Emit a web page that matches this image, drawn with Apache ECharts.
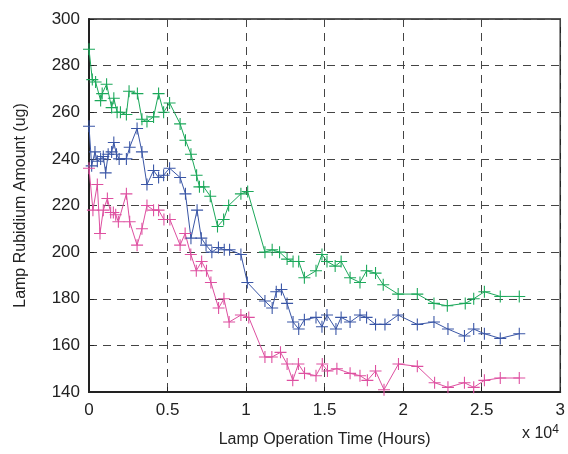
<!DOCTYPE html>
<html>
<head>
<meta charset="utf-8">
<script src="https://cdn.jsdelivr.net/npm/echarts@6/dist/echarts.min.js"></script>
<style>
  html, body { margin: 0; padding: 0; background: #fff; }
  #chart { width: 568px; height: 454px; }
</style>
</head>
<body>
<div id="chart"></div>
<script>
// operation time in units of 10^4 hours, amounts in ug
var greenHours = [0, 0.021, 0.042, 0.074, 0.084, 0.112, 0.144, 0.158, 0.179, 0.2, 0.238, 0.255, 0.308, 0.337, 0.369, 0.411, 0.443, 0.475, 0.513, 0.58, 0.614, 0.649, 0.685, 0.703, 0.73, 0.772, 0.818, 0.857, 0.889, 0.967, 1.01, 1.12, 1.166, 1.213, 1.261, 1.299, 1.335, 1.371, 1.445, 1.483, 1.515, 1.567, 1.605, 1.662, 1.725, 1.767, 1.824, 1.873, 1.968, 2.09, 2.196, 2.281, 2.395, 2.449, 2.517, 2.618, 2.739];
var greenValues = [287, 274, 273, 265, 268, 272, 262, 266, 260, 260, 259, 269, 268, 257, 256, 258, 268, 260, 264, 255, 248, 242, 233, 228, 228, 224, 211, 214, 220, 225, 226, 200, 201, 200, 197, 196, 196, 189, 192, 199, 196, 194, 196, 189, 187, 192, 191, 186, 182, 182, 178, 177, 178, 180, 183, 181, 181];

var blueHours = [0, 0.017, 0.038, 0.053, 0.074, 0.091, 0.106, 0.122, 0.144, 0.158, 0.175, 0.192, 0.238, 0.259, 0.306, 0.337, 0.369, 0.411, 0.443, 0.475, 0.513, 0.58, 0.614, 0.649, 0.688, 0.715, 0.745, 0.782, 0.824, 0.861, 0.895, 0.967, 1.008, 1.12, 1.166, 1.192, 1.225, 1.261, 1.299, 1.335, 1.371, 1.445, 1.483, 1.515, 1.572, 1.605, 1.662, 1.725, 1.767, 1.824, 1.884, 1.968, 2.09, 2.196, 2.285, 2.39, 2.449, 2.517, 2.618, 2.739];
var blueValues = [254, 237, 243, 239, 240, 241, 234, 242, 243, 247, 242, 240, 240, 245, 253, 243, 229, 235, 232, 233, 236, 232, 225, 206, 218, 206, 203, 200, 202, 201, 201, 199, 187, 179, 176, 183, 184, 178, 170, 167, 171, 172, 168, 173, 167, 172, 170, 173, 172, 169, 169, 173, 169, 170, 167, 164, 167, 165, 163, 165];

var pinkHours = [0, 0.025, 0.053, 0.07, 0.091, 0.117, 0.138, 0.155, 0.17, 0.187, 0.238, 0.259, 0.306, 0.337, 0.369, 0.411, 0.443, 0.477, 0.515, 0.58, 0.612, 0.648, 0.683, 0.717, 0.748, 0.776, 0.825, 0.859, 0.892, 0.967, 1.017, 1.12, 1.164, 1.219, 1.261, 1.297, 1.333, 1.372, 1.445, 1.485, 1.518, 1.578, 1.662, 1.725, 1.772, 1.824, 1.878, 1.97, 2.09, 2.2, 2.285, 2.39, 2.449, 2.517, 2.618, 2.739];
var pinkValues = [236, 218, 229, 208, 218, 223, 217, 217, 216, 213, 225, 213, 203, 210, 220, 218, 218, 214, 214, 203, 208, 199, 192, 196, 192, 187, 176, 180, 170, 173, 172, 155, 155, 157, 152, 145, 152, 148, 147, 152, 149, 150, 148, 147, 145, 149, 141, 152, 151, 144, 142, 144, 142, 145, 146, 146];

var xMin = 0, xMax = 3, xStep = 0.5;
var yMin = 140, yMax = 300, yStep = 20;

function pairs(xs, ys) {
    return xs.map(function(x, i) { return [x, ys[i]]; });
}

var plus = 'path://M-1,-0.09 L1,-0.09 L1,0.09 L-1,0.09 Z M-0.09,-1 L0.09,-1 L0.09,1 L-0.09,1 Z';
var ink = '#222222';
var font = 'Liberation Sans, Arial, Helvetica, sans-serif';

function lineSeries(name, color, data) {
    return {
        name: name,
        type: 'line',
        data: data,
        symbol: plus,
        symbolSize: 12,
        showSymbol: true,
        lineStyle: { color: color, width: 1 },
        itemStyle: { color: color },
        emphasis: { disabled: true }
    };
}

var chart = echarts.init(document.getElementById('chart'), null, { renderer: 'canvas' });

chart.setOption({
    animation: false,
    backgroundColor: '#ffffff',
    grid: {
        left: 89, right: 3, top: 19, bottom: 62,
        show: true,
        borderColor: ink,
        borderWidth: 1.5
    },
    xAxis: {
        type: 'value',
        min: xMin, max: xMax, interval: xStep,
        name: 'Lamp Operation Time (Hours)',
        nameLocation: 'middle',
        nameGap: 40,
        nameTextStyle: { color: ink, fontSize: 16, fontFamily: font },
        axisLine: { show: true, lineStyle: { color: ink, width: 2 } },
        axisTick: { show: true, inside: true, length: 5, lineStyle: { color: ink } },
        axisLabel: { color: ink, fontSize: 17, fontFamily: font, margin: 10 },
        splitLine: { show: true, lineStyle: { color: '#444', type: [8, 6], width: 1 } }
    },
    yAxis: {
        type: 'value',
        min: yMin, max: yMax, interval: yStep,
        name: 'Lamp Rubidium Amount (ug)',
        nameLocation: 'middle',
        nameGap: 60,
        nameTextStyle: { color: ink, fontSize: 16, fontFamily: font },
        axisLine: { show: true, lineStyle: { color: ink, width: 2 } },
        axisTick: { show: true, inside: true, length: 5, lineStyle: { color: ink } },
        axisLabel: { color: ink, fontSize: 17, fontFamily: font, margin: 9 },
        splitLine: { show: true, lineStyle: { color: '#444', type: [8, 6], width: 1 } }
    },
    graphic: [{
        type: 'text',
        left: 522,
        top: 424,
        style: {
            text: 'x 10{sup|4}',
            fill: ink,
            font: '16px ' + font,
            rich: {
                sup: { fontSize: 12, fontFamily: font, verticalAlign: 'top', padding: [0, 0, 8, 0], fill: ink }
            }
        }
    }],
    series: [
        lineSeries('Green', '#1ba85a', pairs(greenHours, greenValues)),
        lineSeries('Blue', '#3a56a6', pairs(blueHours, blueValues)),
        lineSeries('Pink', '#de4fa0', pairs(pinkHours, pinkValues))
    ]
});
window.addEventListener('resize', function() { chart.resize(); });
</script>
</body>
</html>
